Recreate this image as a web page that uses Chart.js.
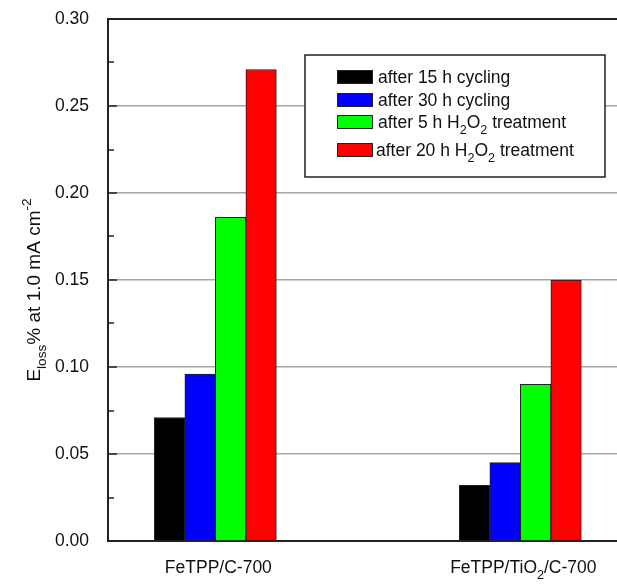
<!DOCTYPE html>
<html lang="en">
<head>
    <meta charset="UTF-8">
    <title>E loss bar chart</title>
    <script src="https://cdn.jsdelivr.net/npm/chart.js"></script>
    <style>
        html, body { margin: 0; padding: 0; background: #fff; overflow: hidden; }
        #wrap { width: 617px; height: 585px; }
    </style>
</head>
<body>
    <div id="wrap"><canvas id="chartCanvas"></canvas></div>

    <script>
        // data
        const categories = ['FeTPP/C-700', 'FeTPP/TiO_{2}/C-700'];
        const categoryPos = [1, 2];
        const seriesLabels = ['after 15 h cycling', 'after 30 h cycling', 'after 5 h H_{2}O_{2} treatment', 'after 20 h H_{2}O_{2} treatment'];
        const cycling15h = [0.071, 0.032];
        const cycling30h = [0.096, 0.045];
        const peroxide5h = [0.186, 0.090];
        const peroxide20h = [0.271, 0.150];
        const yTicks = [0, 0.05, 0.10, 0.15, 0.20, 0.25, 0.30];
        const yMinorTicks = [0.025, 0.075, 0.125, 0.175, 0.225, 0.275];
        const yTitle = 'E_{loss}% at 1.0 mA cm^{-2}';

        const colors = ['#000000', '#0000ff', '#00ff00', '#ff0000'];
        const FONT = 'Arial, "Liberation Sans", sans-serif';

        // text with _{sub} and ^{sup}
        function parseRich(str) {
            const parts = [];
            const re = /([_^])\{([^}]*)\}/g;
            let last = 0, m;
            while ((m = re.exec(str)) !== null) {
                if (m.index > last) parts.push({ t: str.slice(last, m.index), k: 'n' });
                parts.push({ t: m[2], k: m[1] === '_' ? 'sub' : 'sup' });
                last = re.lastIndex;
            }
            if (last < str.length) parts.push({ t: str.slice(last), k: 'n' });
            return parts;
        }
        function richWidth(ctx, str, size) {
            let w = 0;
            parseRich(str).forEach(p => {
                ctx.font = (p.k === 'n' ? size : size * 0.72) + 'px ' + FONT;
                w += ctx.measureText(p.t).width;
            });
            return w;
        }
        function drawRich(ctx, str, x, y, size, align) {
            if (align === 'center') x -= richWidth(ctx, str, size) / 2;
            ctx.textAlign = 'left';
            ctx.textBaseline = 'alphabetic';
            parseRich(str).forEach(p => {
                let dy = 0;
                if (p.k === 'n') ctx.font = size + 'px ' + FONT;
                else {
                    ctx.font = (size * 0.72) + 'px ' + FONT;
                    dy = p.k === 'sub' ? size * 0.32 : -size * 0.45;
                }
                ctx.fillText(p.t, x, y + dy);
                x += ctx.measureText(p.t).width;
            });
        }

        const decorations = {
            id: 'decorations',
            afterDraw(chart) {
                const ctx = chart.ctx;
                const area = chart.chartArea;
                const ys = chart.scales.y;
                const xs = chart.scales.x;
                ctx.save();

                // top frame line
                ctx.strokeStyle = '#222';
                ctx.lineWidth = 2;
                ctx.beginPath();
                ctx.moveTo(area.left - 1, area.top);
                ctx.lineTo(chart.width, area.top);
                ctx.stroke();

                // inward ticks on left axis
                ctx.lineWidth = 1.5;
                yTicks.forEach(v => {
                    const py = Math.round(ys.getPixelForValue(v));
                    ctx.beginPath(); ctx.moveTo(area.left, py); ctx.lineTo(area.left + 9, py); ctx.stroke();
                });
                yMinorTicks.forEach(v => {
                    const py = Math.round(ys.getPixelForValue(v));
                    ctx.beginPath(); ctx.moveTo(area.left, py); ctx.lineTo(area.left + 6, py); ctx.stroke();
                });

                // category labels
                ctx.fillStyle = '#111';
                categories.forEach((c, i) => {
                    drawRich(ctx, c, xs.getPixelForValue(categoryPos[i]) + 3, 573, 17.5, 'center');
                });

                // y axis title
                ctx.save();
                ctx.translate(40, 290);
                ctx.rotate(-Math.PI / 2);
                drawRich(ctx, yTitle, 0, 0, 19, 'center');
                ctx.restore();

                // legend box
                const bx = 305, by = 55, bw = 300, bh = 122;
                ctx.fillStyle = '#fff';
                ctx.fillRect(bx, by, bw, bh);
                ctx.strokeStyle = '#222';
                ctx.lineWidth = 1.5;
                ctx.strokeRect(bx, by, bw, bh);
                const rowY = [77, 100, 122, 150];
                chart.data.datasets.forEach((ds, i) => {
                    const cy = rowY[i];
                    ctx.fillStyle = ds.backgroundColor;
                    ctx.fillRect(337, cy - 7, 36, 14);
                    ctx.strokeStyle = '#222';
                    ctx.lineWidth = 1;
                    ctx.strokeRect(337.5, cy - 6.5, 35, 13);
                    ctx.fillStyle = '#111';
                    drawRich(ctx, ds.label, i === 3 ? 376 : 378, cy + 6, 17.5, 'left');
                });
                ctx.restore();
            }
        };

        const seriesData = [cycling15h, cycling30h, peroxide5h, peroxide20h];

        new Chart(document.getElementById('chartCanvas'), {
            type: 'bar',
            data: {
                datasets: seriesData.map((vals, i) => ({
                    label: seriesLabels[i],
                    data: vals.map((v, j) => ({ x: categoryPos[j], y: v })),
                    backgroundColor: colors[i],
                    borderColor: '#222',
                    borderWidth: 1,
                    barThickness: 30.5
                }))
            },
            options: {
                responsive: true,
                maintainAspectRatio: false,
                animation: false,
                layout: { padding: { left: 0, top: 19, right: 0, bottom: 0 } },
                scales: {
                    x: {
                        type: 'linear',
                        offset: false,
                        min: 0.648,
                        max: 2.317,
                        grid: { display: false, offset: false },
                        border: { display: true, color: '#222', width: 2 },
                        ticks: { display: false },
                        afterFit(scale) { scale.height = 44; }
                    },
                    y: {
                        min: 0,
                        max: 0.3,
                        afterBuildTicks(scale) { scale.ticks = yTicks.map(v => ({ value: v })); },
                        afterFit(scale) { scale.width = 108; },
                        grid: {
                            drawTicks: true,
                            tickLength: 19,
                            tickColor: 'rgba(0,0,0,0)',
                            lineWidth: 1.5,
                            color: c => (c.tick && (c.tick.value === 0 || c.tick.value === 0.3)) ? 'rgba(0,0,0,0)' : '#a6a6a6'
                        },
                        border: { display: true, color: '#222', width: 2 },
                        ticks: {
                            padding: 0,
                            color: '#111',
                            font: { family: FONT, size: 17.5 },
                            callback: v => v.toFixed(2)
                        }
                    }
                },
                plugins: {
                    legend: { display: false },
                    tooltip: { enabled: false }
                }
            },
            plugins: [decorations]
        });
    </script>
</body>
</html>
